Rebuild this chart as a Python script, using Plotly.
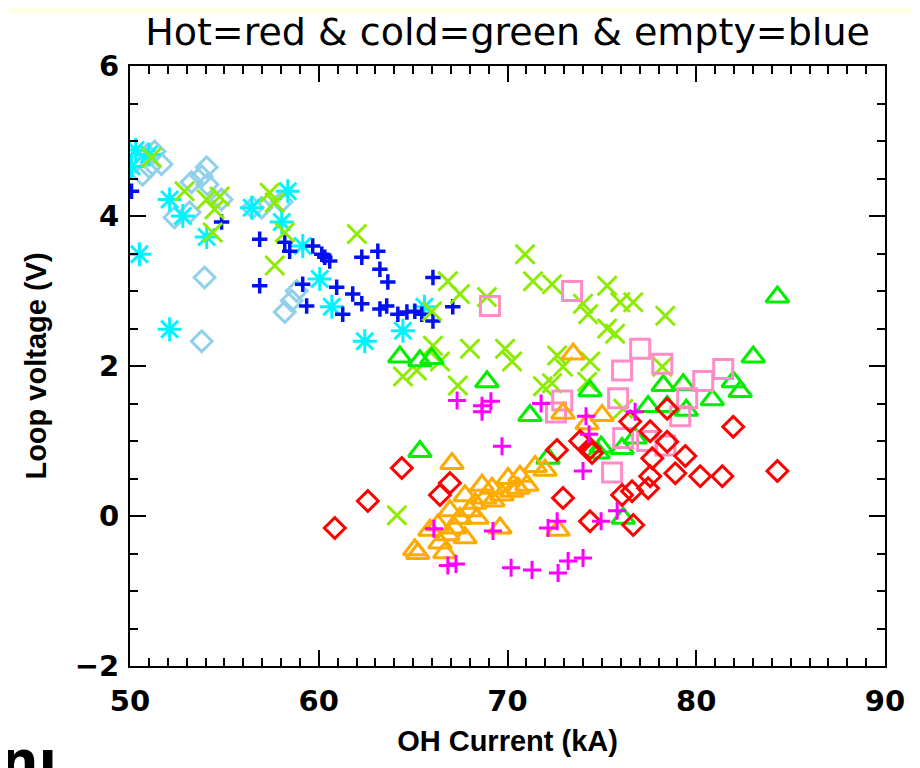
import plotly.graph_objects as go

# ---------------- data (OH current kA, loop voltage V) ----------------
lightblue_x = [50.35, 50.93, 51.3, 51.67, 50.66, 51.03, 52.36, 53.16, 53.26, 53.8, 54.06, 54.1, 54.85,
               53.95, 53.8, 56.5, 56.97, 58.04, 58.2, 58.57, 58.83]
lightblue_y = [4.75, 4.82, 4.86, 4.69, 4.55, 4.65, 3.98, 4.05, 4.45, 4.53, 4.65, 4.42, 4.22,
               3.18, 2.33, 4.11, 4.11, 4.19, 2.72, 2.87, 3.0]

cyan_x = [50.08, 50.3, 51.0, 50.5, 52.1, 52.8, 54.06, 52.1, 56.45, 58.36, 58.04, 59.15, 60.05,
          60.69, 62.44, 64.46, 65.6]
cyan_y = [4.66, 4.88, 4.82, 3.49, 4.22, 4.0, 3.72, 2.49, 4.11, 4.33, 3.92, 3.6, 3.16,
          2.79, 2.33, 2.47, 2.79]

blue_x = [50.08, 54.85, 56.87, 56.87, 58.2, 58.46, 59.68, 60.16, 60.32, 60.58, 62.28, 63.13, 63.24,
          63.66, 66.05, 59.15, 59.36, 60.95, 61.27, 61.8, 62.28, 63.24, 63.6, 64.19, 64.67, 65.09,
          65.46, 66.05, 67.1]
blue_y = [4.33, 3.92, 3.69, 3.07, 3.65, 3.53, 3.6, 3.49, 3.45, 3.4, 3.45, 3.53, 3.29,
          3.12, 3.18, 3.09, 2.8, 3.05, 2.69, 2.96, 2.83, 2.76, 2.8, 2.69, 2.72, 2.73,
          2.69, 2.6, 2.79]

lime_x = [51.14, 52.89, 54.06, 54.75, 54.48, 54.38, 57.4, 57.67, 58.2, 57.67, 62.02, 66.84, 67.48,
          68.91, 66.0, 66.05, 65.2, 64.46, 66.42, 67.37, 68.01, 69.87, 70.24, 64.14, 70.93, 71.35,
          72.36, 74.0, 74.27, 75.28, 72.63, 71.88, 72.36, 72.94, 74.38, 74.22, 75.28, 75.97, 76.66,
          75.7, 78.36, 78.2, 76.13]
lime_y = [4.78, 4.33, 4.22, 4.26, 4.09, 3.78, 4.31, 4.18, 3.78, 3.34, 3.76, 3.13, 2.96,
          2.92, 2.73, 2.27, 1.94, 1.86, 2.06, 1.74, 2.23, 2.23, 2.06, 0.01, 3.49, 3.13,
          3.09, 2.83, 2.69, 3.07, 2.14, 1.73, 1.77, 1.99, 2.06, 1.79, 2.5, 2.85, 2.85,
          2.43, 2.67, 1.99, 1.43]

green_x = [64.3, 65.36, 65.99, 68.91, 71.19, 74.37, 65.36, 72.15, 74.8, 78.25, 79.31, 80.85, 81.96,
           82.33, 83.02, 84.3, 77.45, 78.46, 79.47, 76.76, 74.96, 76.07, 76.13]
green_y = [2.12, 2.07, 2.1, 1.79, 1.34, 1.67, 0.86, 0.77, 0.84, 1.74, 1.75, 1.55, 1.79,
           1.66, 2.12, 2.92, 1.46, 1.46, 1.41, 1.04, 0.92, 0.9, -0.03]

pink_x = [73.42, 69.07, 72.9, 72.57, 77.03, 76.07, 78.2, 81.43, 80.37, 79.52, 75.86, 79.15, 76.13,
          77.4, 78.36, 75.54]
pink_y = [3.0, 2.8, 1.54, 1.38, 2.23, 1.94, 2.03, 1.96, 1.8, 1.57, 1.57, 1.33, 1.04,
          1.0, 0.94, 0.58]

orange_x = [65.09, 65.25, 66.68, 65.89, 66.31, 66.84, 66.95, 67.48, 67.75, 68.01, 68.38, 68.65, 68.81,
            69.18, 69.23, 69.6, 70.03, 70.24, 70.56, 71.03, 71.46, 72.68, 72.94, 74.22, 75.01, 73.48,
            67.06, 66.42, 67.21, 67.75, 68.28, 69.71, 70.66, 71.99]
orange_y = [-0.45, -0.5, -0.49, -0.19, -0.12, -0.25, 0.07, -0.03, 0.27, 0.07, -0.03, 0.41, 0.24,
            0.37, 0.2, -0.16, 0.5, 0.33, 0.37, 0.41, 0.66, -0.19, 1.37, 1.23, 1.34, 2.16,
            0.7, -0.36, -0.16, -0.29, 0.17, 0.28, 0.53, 0.61]

red_x = [60.85, 62.6, 64.4, 66.42, 66.95, 72.62, 72.94, 73.85, 74.37, 74.48, 74.37, 76.5, 77.56,
         78.46, 78.46, 79.42, 81.96, 77.67, 78.89, 80.21, 81.38, 77.56, 77.45, 76.6, 76.07, 76.66,
         84.3]
red_y = [-0.16, 0.2, 0.64, 0.28, 0.44, 0.88, 0.24, 1.0, 0.9, 0.84, -0.07, 1.26, 1.13,
         1.43, 0.99, 0.8, 1.19, 0.77, 0.57, 0.53, 0.53, 0.53, 0.37, 0.33, 0.28, -0.12,
         0.6]

magenta_x = [67.33, 68.65, 69.12, 68.65, 69.71, 71.78, 74.16, 74.32, 74.0, 74.96, 72.15, 72.63, 69.23,
             66.1, 66.84, 67.27, 70.19, 71.3, 72.68, 73.21, 74.0, 76.76, 75.81]
magenta_y = [1.54, 1.47, 1.53, 1.39, 0.93, 1.5, 1.33, 1.09, 0.6, -0.07, -0.16, -0.07, -0.2,
             -0.17, -0.66, -0.64, -0.69, -0.72, -0.76, -0.6, -0.56, 1.39, 0.07]

title_text = "Hot=red & cold=green & empty=blue"
x_title = "OH Current (kA)"
y_title = "Loop voltage (V)"
slide_fragment = "nı"

# ---------------- figure ----------------
series = [
    (lightblue_x, lightblue_y, "diamond-open", "#90D0EA", 16, 3),
    (cyan_x, cyan_y, "asterisk-open", "#00F4FF", 20, 3),
    (blue_x, blue_y, "cross-thin-open", "#0010F0", 11, 3.5),
    (lime_x, lime_y, "x-thin-open", "#8CEC00", 19, 3),
    (green_x, green_y, "triangle-up-open", "#00EE00", 20, 3),
    (pink_x, pink_y, "square-open", "#FF8CC6", 19, 3),
    (orange_x, orange_y, "triangle-up-open", "#FFAA00", 20, 3),
    (red_x, red_y, "diamond-open", "#FF0000", 16, 3),
    (magenta_x, magenta_y, "cross-thin-open", "#FF00FF", 13, 3),
]

fig = go.Figure()
for xs, ys, sym, col, sz, lw in series:
    fig.add_trace(go.Scatter(
        x=xs, y=ys, mode="markers", showlegend=False,
        marker=dict(symbol=sym, size=sz, color=col, line=dict(color=col, width=lw)),
    ))

axis_common = dict(
    showline=True, linecolor="black", linewidth=2, mirror="ticks",
    ticks="inside", tickcolor="black", tickwidth=2, ticklen=16,
    showgrid=False, zeroline=False, automargin=False,
    tickfont=dict(family="DejaVu Sans", size=29, color="black", weight="bold"),
)
title_font = dict(family="Liberation Sans", size=29, color="black", weight="bold")

fig.update_xaxes(range=[50, 90], dtick=10, tick0=50,
                 minor=dict(ticks="inside", ticklen=8, tickwidth=2, tickcolor="black", dtick=1, showgrid=False),
                 title=dict(text=x_title, font=title_font, standoff=14),
                 ticklabelstandoff=8,
                 **axis_common)
fig.update_yaxes(range=[-2, 6], dtick=2, tick0=-2,
                 minor=dict(ticks="inside", ticklen=8, tickwidth=2, tickcolor="black", dtick=0.5, showgrid=False),
                 title=dict(text=y_title, font=title_font, standoff=20),
                 ticklabelstandoff=3,
                 **axis_common)

W, H = 912, 760
fig.update_layout(
    width=W, height=H,
    margin=dict(l=122, r=35, t=58, b=102),
    paper_bgcolor="white", plot_bgcolor="white",
    title=dict(text=title_text, x=0.5, xref="paper", xanchor="center",
               y=1 - 24 / H, yref="container", yanchor="middle",
               font=dict(family="DejaVu Sans", size=38, color="black")),
    shapes=[dict(type="rect", xref="paper", yref="paper",
                 x0=-0.2, x1=1.1, y0=1 + 52 / 600, y1=1.2, fillcolor="#FFFFE6",
                 line=dict(width=0), layer="below")],
    annotations=[dict(text=slide_fragment, xref="paper", yref="paper", x=-132 / 755, y=-61 / 600,
                      xanchor="left", yanchor="top", showarrow=False,
                      font=dict(family="DejaVu Sans", size=54, color="black", weight="bold"))],
)

fig.write_html("out.html")
